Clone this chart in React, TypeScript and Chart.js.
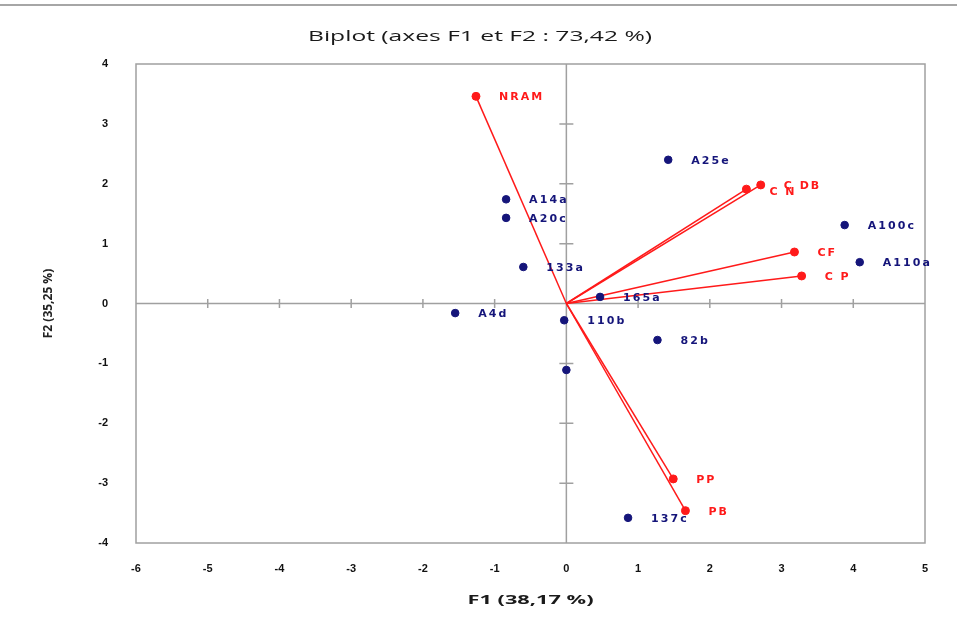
import React, { useEffect, useRef } from "react";
import { Chart, registerables } from "chart.js";

Chart.register(...registerables);

const chartTitle = "Biplot (axes F1 et F2 : 73,42 %)";
const xAxisTitle = "F1 (38,17 %)";
const yAxisTitle = "F2 (35,25 %)";

// observations (navy)
const obsLabels = ["A25e", "A14a", "A20c", "A100c", "A110a", "133a", "165a", "A4d", "110b", "82b", "", "137c"];
const obsF1 = [1.42, -0.84, -0.84, 3.88, 4.09, -0.6, 0.47, -1.55, -0.03, 1.27, 0.0, 0.86];
const obsF2 = [2.4, 1.74, 1.43, 1.31, 0.69, 0.61, 0.11, -0.16, -0.28, -0.61, -1.11, -3.58];

// variables (red vectors)
const varLabels = ["NRAM", "C DB", "C N", "CF", "C P", "PP", "PB"];
const varF1 = [-1.26, 2.71, 2.51, 3.18, 3.28, 1.49, 1.66];
const varF2 = [3.46, 1.98, 1.91, 0.86, 0.46, -2.93, -3.46];

const xMin = -6;
const xMax = 5;
const yMin = -4;
const yMax = 4;

const NAVY = "#15157a";
const RED = "#ff1a1a";
const AXIS = "#a0a0a0";

function stretchedText(ctx: CanvasRenderingContext2D, text: string, cx: number, cy: number, font: string, targetWidth: number) {
  ctx.save();
  ctx.font = font;
  ctx.textAlign = "center";
  ctx.textBaseline = "middle";
  const w = ctx.measureText(text).width;
  const sx = targetWidth / w;
  ctx.translate(cx, cy);
  ctx.scale(sx, 1);
  ctx.fillText(text, 0, 0);
  ctx.restore();
}

export default function App() {
  const ref = useRef<HTMLCanvasElement | null>(null);

  useEffect(() => {
    if (!ref.current) return;

    const frameAndAxes = {
      id: "frameAndAxes",
      beforeDatasetsDraw(chart: any) {
        const { ctx, chartArea } = chart;
        const xs = chart.scales.x;
        const ys = chart.scales.y;
        ctx.save();
        ctx.strokeStyle = AXIS;
        ctx.lineWidth = 1.5;
        ctx.strokeRect(chartArea.left, chartArea.top, chartArea.right - chartArea.left, chartArea.bottom - chartArea.top);
        const x0 = xs.getPixelForValue(0);
        const y0 = ys.getPixelForValue(0);
        ctx.beginPath();
        ctx.moveTo(x0, chartArea.top);
        ctx.lineTo(x0, chartArea.bottom);
        ctx.moveTo(chartArea.left, y0);
        ctx.lineTo(chartArea.right, y0);
        for (let v = xMin + 1; v < xMax; v++) {
          if (v === 0) continue;
          const px = xs.getPixelForValue(v);
          ctx.moveTo(px, y0 - 4.5);
          ctx.lineTo(px, y0 + 4.5);
        }
        for (let v = yMin + 1; v < yMax; v++) {
          if (v === 0) continue;
          const py = ys.getPixelForValue(v);
          ctx.moveTo(x0 - 7, py);
          ctx.lineTo(x0 + 7, py);
        }
        ctx.stroke();
        ctx.restore();
      },
    };

    const textPlugin = {
      id: "textPlugin",
      afterDraw(chart: any) {
        const { ctx, chartArea } = chart;
        const cx = (chartArea.left + chartArea.right) / 2;
        ctx.fillStyle = "#1a1a1a";
        stretchedText(ctx, chartTitle, 480, 37, "15px 'Open Sans'", 344);
        stretchedText(ctx, xAxisTitle, cx, 601, "bold 12px 'Open Sans'", 126);
      },
      afterDatasetsDraw(chart: any) {
        const { ctx } = chart;
        ctx.save();
        ctx.font = "bold 11px 'DejaVu Sans'";
        (ctx as any).letterSpacing = "2.1px";
        ctx.textBaseline = "middle";
        ctx.textAlign = "left";
        const obsMeta = chart.getDatasetMeta(0);
        ctx.fillStyle = NAVY;
        obsMeta.data.forEach((el: any, i: number) => {
          if (obsLabels[i]) ctx.fillText(obsLabels[i], el.x + 23, el.y + 1);
        });
        const varMeta = chart.getDatasetMeta(1);
        ctx.fillStyle = RED;
        (ctx as any).letterSpacing = "2px";
        varMeta.data.forEach((el: any, i: number) => {
          const lab = varLabels[i];
          const dy = lab === "C N" ? 3 : 1;
          ctx.fillText(lab, el.x + 23, el.y + dy);
        });
        ctx.restore();
      },
    };

    const vectorSets = varLabels.map((lab, i) => ({
      type: "line" as const,
      label: lab,
      data: [
        { x: 0, y: 0 },
        { x: varF1[i], y: varF2[i] },
      ],
      borderColor: RED,
      borderWidth: 1.5,
      pointRadius: 0,
      showLine: true,
      fill: false,
      tension: 0,
      order: 3,
    }));

    const chart = new Chart(ref.current, {
      type: "scatter",
      data: {
        datasets: [
          {
            label: "Observations",
            data: obsF1.map((x, i) => ({ x, y: obsF2[i] })),
            backgroundColor: NAVY,
            borderColor: NAVY,
            pointRadius: 3.8,
            pointStyle: "circle",
            order: 1,
          },
          {
            label: "Variables",
            data: varF1.map((x, i) => ({ x, y: varF2[i] })),
            backgroundColor: RED,
            borderColor: RED,
            pointRadius: 4,
            order: 2,
          },
          ...vectorSets,
        ] as any,
      },
      options: {
        responsive: false,
        animation: false,
        devicePixelRatio: 1,
        layout: { padding: { left: 0, right: 32, top: 64, bottom: 0 } },
        plugins: {
          legend: { display: false },
          tooltip: { enabled: false },
          title: { display: false },
        },
        scales: {
          x: {
            type: "linear",
            min: xMin,
            max: xMax,
            grid: { display: false, drawTicks: false },
            border: { display: false },
            ticks: {
              stepSize: 1,
              color: "#111",
              padding: 19,
              font: { family: "'Liberation Sans'", size: 11, weight: "bold" },
            },
            afterFit(scale: any) {
              scale.height = 88;
            },
          },
          y: {
            type: "linear",
            min: yMin,
            max: yMax,
            grid: { display: false, drawTicks: false },
            border: { display: false },
            ticks: {
              stepSize: 1,
              color: "#111",
              padding: 28,
              font: { family: "'Liberation Sans'", size: 11, weight: "bold" },
            },
            title: {
              display: true,
              text: yAxisTitle,
              color: "#222",
              font: { family: "'Open Sans'", size: 12, weight: "bold" },
              padding: { top: 41, bottom: 4 },
            },
            afterFit(scale: any) {
              scale.width = 136;
            },
          },
        },
      } as any,
      plugins: [frameAndAxes, textPlugin],
    });

    return () => chart.destroy();
  }, []);

  return (
    <div style={{ position: "absolute", left: 0, top: 0, width: 957, height: 631, background: "#fff" }}>
      <div style={{ position: "absolute", left: 0, top: 4, width: 957, height: 2, background: "#a6a6a6" }} />
      <canvas ref={ref} width={957} height={631} style={{ display: "block", width: 957, height: 631 }} />
    </div>
  );
}
